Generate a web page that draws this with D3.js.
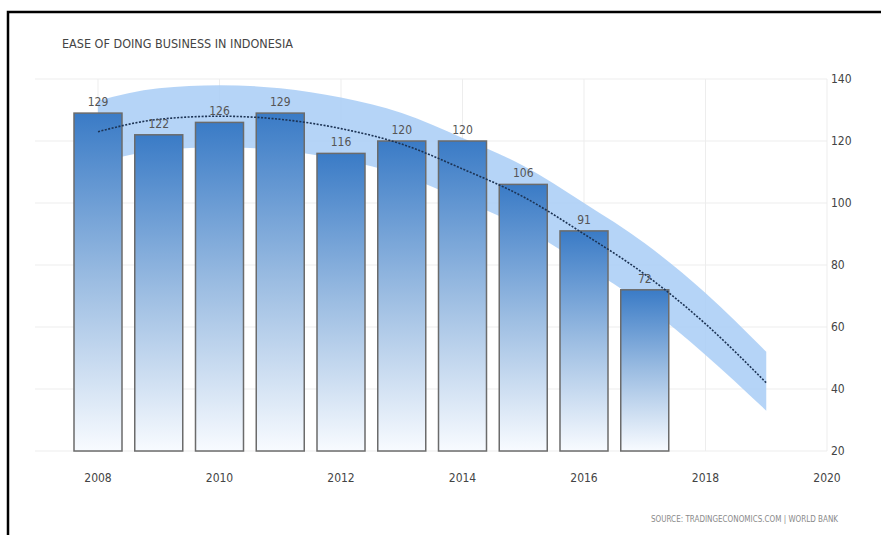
<!DOCTYPE html>
<html>
<head>
<meta charset="utf-8">
<style>
body { margin: 0; background: #fff; }
svg text { font-family: "Liberation Sans Narrow", "DejaVu Sans Condensed", "Roboto Condensed", sans-serif; }
.grid line { stroke: #ededed; stroke-width: 1; }
.title { font-size: 12.5px; fill: #444; }
.lbl { font-size: 12px; fill: #555; }
.tick { font-size: 12px; fill: #444; }
.source { font-size: 8px; fill: #8a8a8a; }
.bar { stroke: #6b6b6b; stroke-width: 1.5; }
.trend { fill: none; stroke: #1c3354; stroke-width: 1.6; stroke-dasharray: 2,1.5; }
.band { fill: #a8cdf6; opacity: 0.85; }
</style>
</head>
<body>
<svg width="881" height="535"></svg>
<script src="https://cdn.jsdelivr.net/npm/d3@7/dist/d3.min.js"></script>
<script>
// bars
var years = [2008, 2009, 2010, 2011, 2012, 2013, 2014, 2015, 2016, 2017]
var ranks = [129, 122, 126, 129, 116, 120, 120, 106, 91, 72]

// trend and its band
var trendYears = [2008, 2009, 2010, 2011, 2012, 2013, 2014, 2015, 2016, 2017, 2018, 2019]
var trend = [123, 127, 128, 127, 124, 119, 111, 102, 90, 77, 61, 42]
var bandHigh = [133, 137, 138, 137, 134, 129, 121, 112, 100, 87, 71, 52]
var bandLow = [113, 117, 118, 117, 114, 109, 101, 92, 80, 67, 51, 33]

var xTicks = [2008, 2010, 2012, 2014, 2016, 2018, 2020]
var yTicks = [20, 40, 60, 80, 100, 120, 140]

var svg = d3.select("svg")

var x = d3.scaleLinear().domain([2008, 2020]).range([98, 827])
var y = d3.scaleLinear().domain([20, 140]).range([451, 79])
var barW = 48

// frame
svg.append("rect")
  .attr("x", 8).attr("y", 12)
  .attr("width", 900).attr("height", 600)
  .attr("fill", "none").attr("stroke", "#000").attr("stroke-width", 2.5)

var grad = svg.append("defs").append("linearGradient")
  .attr("id", "barGrad").attr("x1", 0).attr("y1", 0).attr("x2", 0).attr("y2", 1)
grad.append("stop").attr("offset", "0%").attr("stop-color", "#3a7bc6")
grad.append("stop").attr("offset", "50%").attr("stop-color", "#9cbde2")
grad.append("stop").attr("offset", "100%").attr("stop-color", "#f8fbff")

// gridlines
var grid = svg.append("g").attr("class", "grid")
grid.selectAll(".h").data(yTicks).enter().append("line")
  .attr("x1", 35).attr("x2", x(2020))
  .attr("y1", function(d) { return y(d) }).attr("y2", function(d) { return y(d) })
grid.selectAll(".v").data(xTicks).enter().append("line")
  .attr("x1", function(d) { return x(d) }).attr("x2", function(d) { return x(d) })
  .attr("y1", y(140)).attr("y2", y(20))

// band and trend
var area = d3.area()
  .x(function(d, i) { return x(trendYears[i]) })
  .y0(function(d, i) { return y(bandLow[i]) })
  .y1(function(d, i) { return y(bandHigh[i]) })
  .curve(d3.curveMonotoneX)
svg.append("path").datum(trend).attr("class", "band").attr("d", area)

// bars
svg.selectAll(".bar").data(ranks).enter().append("rect")
  .attr("class", "bar")
  .attr("x", function(d, i) { return x(years[i]) - barW / 2 })
  .attr("y", function(d) { return y(d) })
  .attr("width", barW)
  .attr("height", function(d) { return y(20) - y(d) })
  .attr("fill", "url(#barGrad)")

var line = d3.line()
  .x(function(d, i) { return x(trendYears[i]) })
  .y(function(d) { return y(d) })
  .curve(d3.curveMonotoneX)
svg.append("path").datum(trend).attr("class", "trend").attr("d", line)

// value labels
svg.selectAll(".lbl").data(ranks).enter().append("text")
  .attr("class", "lbl")
  .attr("x", function(d, i) { return x(years[i]) })
  .attr("y", function(d) { return y(d) - 7 })
  .attr("text-anchor", "middle")
  .text(function(d) { return d })

// axes labels
svg.selectAll(".xt").data(xTicks).enter().append("text")
  .attr("class", "tick")
  .attr("x", function(d) { return x(d) })
  .attr("y", 482)
  .attr("text-anchor", "middle")
  .text(function(d) { return d })

svg.selectAll(".yt").data(yTicks).enter().append("text")
  .attr("class", "tick")
  .attr("x", 831)
  .attr("y", function(d) { return y(d) + 4 })
  .text(function(d) { return d })

svg.append("text").attr("class", "title")
  .attr("x", 62).attr("y", 48)
  .text("EASE OF DOING BUSINESS IN INDONESIA")

svg.append("text").attr("class", "source")
  .attr("x", 838).attr("y", 522).attr("text-anchor", "end")
  .text("SOURCE: TRADINGECONOMICS.COM | WORLD BANK")
</script>
</body>
</html>
